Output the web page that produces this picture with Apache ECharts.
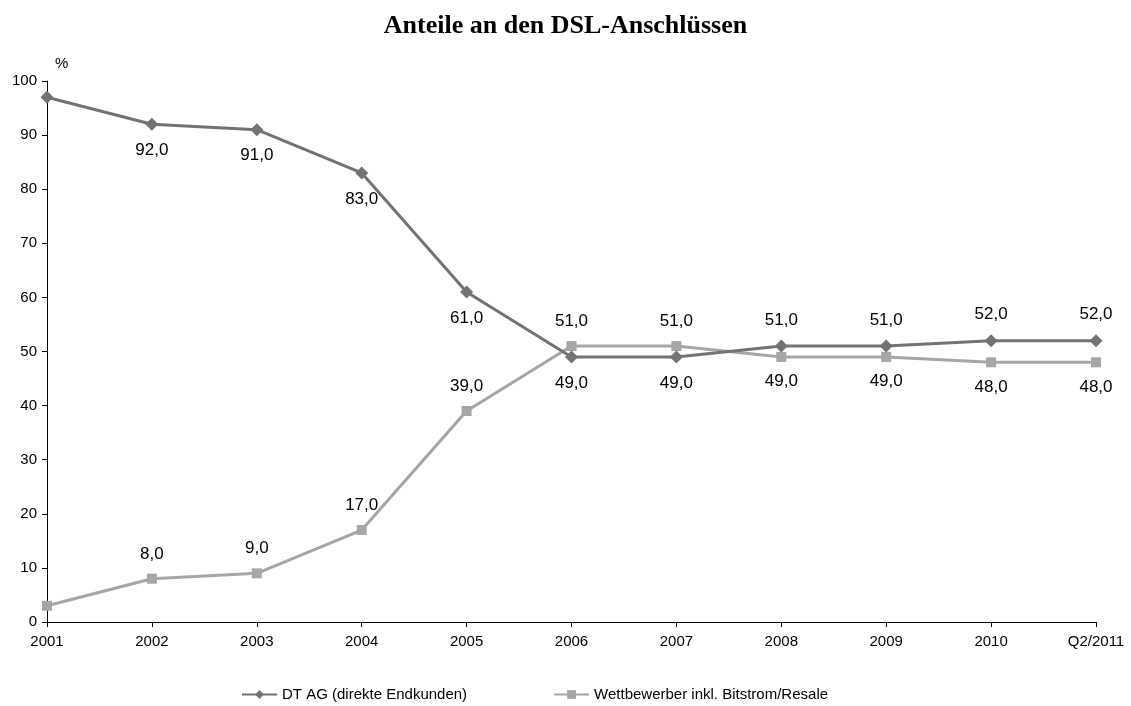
<!DOCTYPE html>
<html>
<head>
<meta charset="utf-8">
<script src="https://cdn.jsdelivr.net/npm/echarts@6/dist/echarts.min.js"></script>
<style>
html,body{margin:0;padding:0;background:#fff;}
#main{width:1131px;height:706px;}
</style>
</head>
<body>
<div id="main"></div>
<script>
var categories = ['2001','2002','2003','2004','2005','2006','2007','2008','2009','2010','Q2/2011'];
var dtValues = [97, 92, 91, 83, 61, 49, 49, 51, 51, 52, 52];
var wbValues = [3, 8, 9, 17, 39, 51, 51, 49, 49, 48, 48];
// label placement per point ('' = no label)
var dtLabelPos = ['', 'bottom', 'bottom', 'bottom', 'bottom', 'bottom', 'bottom', 'top', 'top', 'top', 'top'];
var wbLabelPos = ['', 'top', 'top', 'top', 'top', 'top', 'top', 'bottom', 'bottom', 'bottom', 'bottom'];

function fmt(v){ return v.toFixed(1).replace('.', ','); }

function buildData(values, pos){
    return values.map(function(v, i){
        return {
            value: v,
            label: pos[i] ? {show: true, position: pos[i], formatter: fmt(v)} : {show: false}
        };
    });
}

var font = 'Liberation Sans, Arial, sans-serif';

var option = {
    animation: false,
    title: {
        text: 'Anteile an den DSL-Anschlüssen',
        left: 'center',
        top: 8,
        textStyle: {fontFamily: 'Liberation Serif, Times New Roman, serif', fontSize: 26, fontWeight: 'bold', color: '#000'}
    },
    legend: {
        top: 682,
        left: 236,
        itemGap: 86,
        itemWidth: 35,
        itemHeight: 11,
        textStyle: {fontFamily: font, fontSize: 15, color: '#000'},
        data: ['DT AG (direkte Endkunden)', 'Wettbewerber inkl. Bitstrom/Resale']
    },
    grid: {left: 47, right: 35, top: 81, bottom: 84, containLabel: false},
    xAxis: {
        type: 'category',
        boundaryGap: false,
        data: categories,
        axisLine: {lineStyle: {color: '#000', width: 1}},
        axisTick: {alignWithLabel: true, length: 5, lineStyle: {color: '#000'}},
        axisLabel: {fontFamily: font, fontSize: 15, color: '#000', margin: 12}
    },
    yAxis: {
        type: 'value',
        min: 0,
        max: 100,
        interval: 10,
        name: '%',
        nameGap: 10,
        nameTextStyle: {fontFamily: font, fontSize: 15, color: '#000', align: 'left', padding: [0, 0, 0, 8]},
        axisLine: {show: true, lineStyle: {color: '#000', width: 1}},
        axisTick: {show: true, length: 5, lineStyle: {color: '#000'}},
        axisLabel: {fontFamily: font, fontSize: 15, color: '#000', margin: 10},
        splitLine: {show: false}
    },
    series: [
        {
            name: 'DT AG (direkte Endkunden)',
            type: 'line',
            data: buildData(dtValues, dtLabelPos),
            symbol: 'diamond',
            symbolSize: 13,
            lineStyle: {color: '#737373', width: 3},
            itemStyle: {color: '#737373'},
            label: {fontFamily: font, fontSize: 17, color: '#000', distance: 11},
            z: 3
        },
        {
            name: 'Wettbewerber inkl. Bitstrom/Resale',
            type: 'line',
            data: buildData(wbValues, wbLabelPos),
            symbol: 'rect',
            symbolSize: 10,
            lineStyle: {color: '#a6a6a6', width: 3},
            itemStyle: {color: '#a6a6a6'},
            label: {fontFamily: font, fontSize: 17, color: '#000', distance: 11},
            z: 2
        }
    ]
};

echarts.init(document.getElementById('main')).setOption(option);
</script>
</body>
</html>
